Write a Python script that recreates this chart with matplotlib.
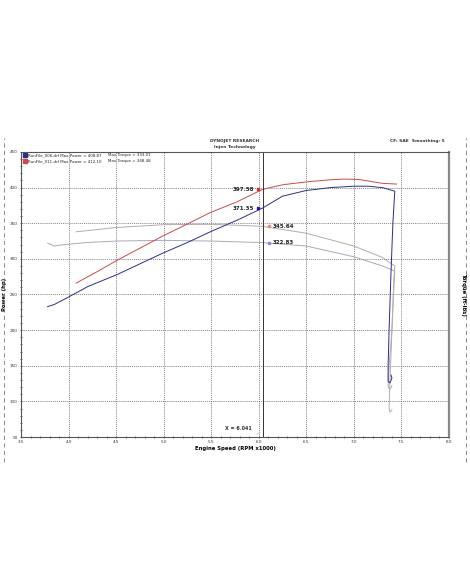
import numpy as np
import matplotlib.pyplot as plt
from matplotlib.ticker import MultipleLocator
import matplotlib.transforms as mtransforms

# run 006 (blue) and run 011 (red)
rpm_pwr_006 = [3.78, 3.85, 3.98, 4.2, 4.51, 4.75, 4.99, 5.25, 5.49, 5.8, 6.04, 6.25, 6.5,
               6.75, 7.0, 7.15, 7.3, 7.43, 7.41, 7.39, 7.37, 7.36, 7.36, 7.38, 7.40, 7.39]
hp_006 = [233, 236, 245, 261, 278, 293, 308, 323, 338, 356, 371.35, 388, 396,
          400, 402, 402, 400, 395, 350, 280, 200, 150, 128, 126, 133, 137]

rpm_pwr_011 = [4.08, 4.3, 4.51, 4.75, 4.99, 5.25, 5.49, 5.77, 6.04, 6.25, 6.5,
               6.75, 6.9, 7.05, 7.3, 7.45]
hp_011 = [266, 282, 298, 315, 332, 349, 365, 380, 397.58, 404, 408,
          411, 412, 411.5, 406, 405]

rpm_trq_006 = [3.78, 3.85, 3.95, 4.2, 4.5, 5.0, 5.5, 6.04, 6.5, 7.0, 7.3, 7.43,
               7.42, 7.40, 7.37, 7.36, 7.38, 7.40]
tq_006 = [322, 318, 320, 323, 325, 326, 325, 322.83, 318, 303, 290, 283,
          260, 200, 150, 120, 117, 122]

rpm_trq_011 = [4.08, 4.5, 5.0, 5.5, 5.8, 6.04, 6.5, 7.0, 7.3, 7.43,
               7.42, 7.40, 7.38, 7.37, 7.38, 7.40]
tq_011 = [338, 344, 348, 348.5, 347, 345.64, 336, 318, 302, 290,
          270, 200, 130, 90, 85, 88]

cursor_x = 6.041
cursor_pwr = [397.58, 371.35]
cursor_trq = [345.64, 322.83]

legend_rows = ["RunFile_006.drf Max Power = 408.87", "RunFile_011.drf Max Power = 412.10"]
legend_trq = ["Max Torque = 333.01", "Max Torque = 348.48"]

blue = '#2b2f86'
red = '#cc4b4b'

fig = plt.figure(figsize=(4.7, 5.88), dpi=100)
ax = fig.add_axes([0.0447, 0.2568, 0.9106, 0.4847])

ax.set_xlim(3.5, 8.0)
ax.set_ylim(50, 450)
ax.xaxis.set_major_locator(MultipleLocator(0.5))
ax.xaxis.set_minor_locator(MultipleLocator(0.1))
ax.yaxis.set_major_locator(MultipleLocator(50))
ax.yaxis.set_minor_locator(MultipleLocator(10))
ax.grid(True, which='major', color='#555555', linestyle=(0, (1.5, 1.5)), linewidth=0.5)
ax.tick_params(which='both', labelsize=3, length=2, width=0.5, colors='#333333',
               direction='inout', right=True, labelright=True, pad=1.5)
ax.tick_params(which='minor', length=1.5)
ax.set_xticklabels([f'{v:.1f}' for v in ax.get_xticks()])
for s in ax.spines.values():
    s.set_color('#555555')
    s.set_linewidth(0.8)
ax.spines['right'].set_linewidth(1.6)
ax.spines['right'].set_color('#888888')

# torque curves (light), power curves (dark)
ax.plot(rpm_trq_006, tq_006, color='#a9a9b8', lw=0.7)
ax.plot(rpm_trq_011, tq_011, color='#b8a9a9', lw=0.7)
ax.plot(rpm_pwr_011, hp_011, color=red, lw=0.7)
ax.plot(rpm_pwr_006, hp_006, color=blue, lw=0.7)

# cursor
ax.axvline(cursor_x, color='#333333', lw=0.7)
ax.annotate('X = 6.041', xy=(cursor_x, 53), xytext=(-8, 2.5), textcoords='offset points',
            ha='right', va='bottom', fontsize=3.5, fontweight='bold', color='#333333',
            arrowprops=dict(arrowstyle='-', color='#999999', lw=0.4))

left_off = mtransforms.offset_copy(ax.transData, fig=fig, x=-3.5, y=0, units='points')
right_off = mtransforms.offset_copy(ax.transData, fig=fig, x=4.5, y=0, units='points')
for v, c in zip(cursor_pwr, ['#dd2a2a', '#1a1aa0']):
    ax.plot([cursor_x], [v], 's', ms=2, color=c, transform=left_off)
    ax.annotate(f'{v:.2f}', xy=(cursor_x, v), xytext=(-6, 0), textcoords='offset points',
                ha='right', va='center', fontsize=4, fontweight='bold', color='#222222')
for v, c in zip(cursor_trq, ['#ee8888', '#8888ee']):
    ax.plot([cursor_x], [v], 's', ms=2, color=c, transform=right_off)
    ax.annotate(f'{v:.2f}', xy=(cursor_x, v), xytext=(7, 0), textcoords='offset points',
                ha='left', va='center', fontsize=4, fontweight='bold', color='#222222')

# legend rows
for i, (txt, tq, c) in enumerate(zip(legend_rows, legend_trq, [blue, red])):
    y = 0.988 - i * 0.02
    ax.plot([0.009], [y], 's', ms=2.5, color=c, transform=ax.transAxes, clip_on=False)
    ax.text(0.016, y, txt, transform=ax.transAxes, fontsize=2.9, va='center', color='#222222')
    ax.text(0.203, y, tq, transform=ax.transAxes, fontsize=2.9, va='center', color='#222222')

ax.set_xlabel('Engine Speed (RPM x1000)', fontsize=3.8, fontweight='bold', labelpad=1)
ax.set_ylabel('Power (hp)', fontsize=3.8, fontweight='bold', labelpad=2)
ax2 = ax.twinx()
ax2.set_ylim(50, 450)
ax2.set_yticks([])
ax2.set_ylabel('Torque (ft-lbs)', fontsize=3.8, fontweight='bold', rotation=270, labelpad=12)
for s in ax2.spines.values():
    s.set_visible(False)

fig.text(0.5, 1 - 141 / 588, 'DYNOJET RESEARCH', ha='center', va='center', fontsize=3.2,
         fontweight='bold', color='#333333')
fig.text(0.5, 1 - 147 / 588, 'Injen Technology', ha='center', va='center', fontsize=3.2,
         fontweight='bold', color='#333333')
fig.text(445 / 470, 1 - 141 / 588, 'CF: SAE  Smoothing: 5', ha='right', va='center',
         fontsize=3.2, fontweight='bold', color='#333333')

# scanned page edges
for xp in [4 / 470, 466 / 470]:
    fig.add_artist(plt.Line2D([xp, xp], [1 - 462 / 588, 1 - 138 / 588], color='#777777',
                              lw=0.6, linestyle=(0, (5, 4))))

fig.savefig('out.png', dpi=100)
